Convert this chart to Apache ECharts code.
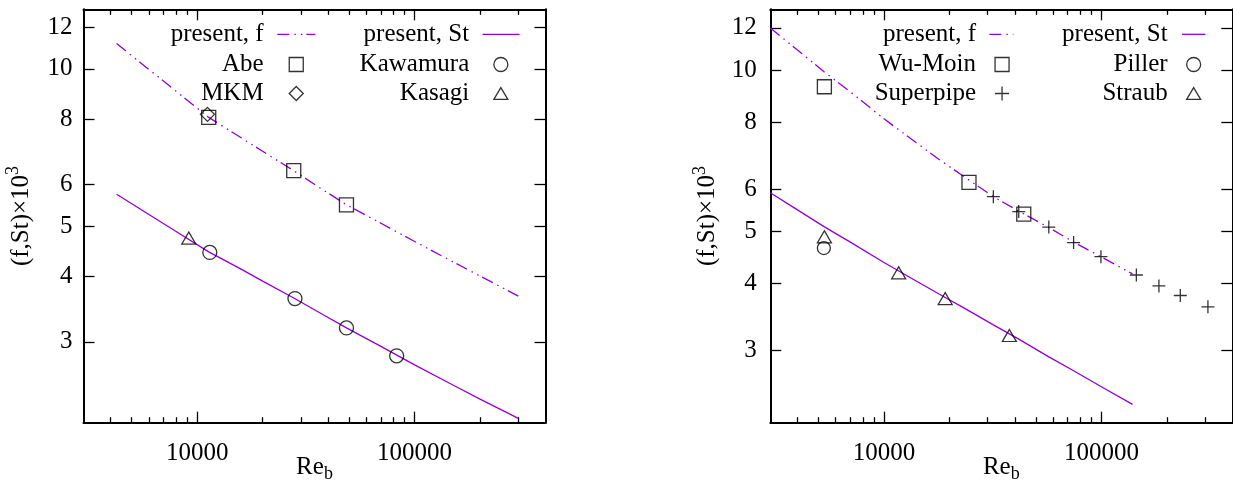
<!DOCTYPE html>
<html><head><meta charset="utf-8">
<script src="https://cdn.jsdelivr.net/npm/echarts@6/dist/echarts.min.js"></script>
<style>html,body{margin:0;padding:0;background:#fff}#c{width:1233px;height:486px}</style>
</head><body><div id="c"></div>
<script>
// ---------- tick labels ----------
const xTickMajor = [10000, 100000];
const xTickMinor = [4000, 5000, 6000, 7000, 8000, 9000, 20000, 30000, 40000, 50000, 60000, 70000, 80000, 90000, 200000, 300000];
const yTicks = [3, 4, 5, 6, 8, 10, 12];

// ---------- left panel (channel) ----------
const leftCurveRe = [4260, 6000, 8000, 11300, 16000, 20000, 27800, 38000, 48600, 70000, 100000, 150000, 200000, 300000];
const leftCurveF  = [11.18, 9.97, 9.06, 8.07, 7.37, 6.95, 6.38, 5.86, 5.49, 5.06, 4.67, 4.27, 4.01, 3.67];
const leftCurveSt = [5.75, 5.26, 4.88, 4.46, 4.13, 3.92, 3.64, 3.38, 3.19, 2.94, 2.71, 2.48, 2.33, 2.14];
const reAbe = [11300, 27800, 48600];
const fAbe = [8.07, 6.38, 5.49];
const reMKM = [11150];
const fMKM = [8.18];
const reKawamura = [11430, 28160, 48600, 82700];
const stKawamura = [4.45, 3.63, 3.19, 2.82];
const reKasagi = [9150];
const stKasagi = [4.74];

// ---------- right panel (pipe) ----------
const rightCurveRe = [3000, 4000, 5300, 7000, 10000, 14000, 18000, 23400, 31850, 41670, 57300, 74500, 99500, 139000];
const rightCurveF  = [12.0, 10.91, 9.94, 9.12, 8.12, 7.34, 6.81, 6.33, 5.81, 5.46, 5.09, 4.78, 4.49, 4.17];
const rightCurveSt = [5.91, 5.49, 5.11, 4.78, 4.38, 4.05, 3.82, 3.60, 3.35, 3.15, 2.92, 2.75, 2.57, 2.38];
const reWuMoin = [5320, 24600, 43950];
const fWuMoin = [9.32, 6.18, 5.39];
const reSuperpipe = [31850, 41670, 57300, 74500, 99500, 144800, 183900, 230600, 309000];
const fSuperpipe = [5.81, 5.45, 5.10, 4.77, 4.49, 4.15, 3.96, 3.80, 3.62];
const rePiller = [5290];
const stPiller = [4.66];
const reStraub = [5320, 11680, 19120, 37720];
const stStraub = [4.89, 4.19, 3.75, 3.20];

// ---------- styling ----------
const FONT = "'Liberation Serif','Times New Roman',serif";
const PURPLE = '#9400d3';
const DASH = [12, 5, 1.5, 5, 1.5, 4];
const BLACK = '#000';
const PLUS = 'path://M0,5H10M5,0V10';
const TRI = 'path://M5,0L10,8.5L0,8.5Z';

function pairs(xs, ys) { return xs.map((x, i) => [x, ys[i]]); }

function xAxes(gi) {
  const base = {
    type: 'log', logBase: 10, gridIndex: gi, min: 3000, max: 400000,
    splitLine: { show: false }, minorTick: { show: false }, minorSplitLine: { show: false },
    axisLine: { show: true, onZero: false, lineStyle: { color: BLACK, width: 2 } },
    axisLabel: { show: false }
  };
  const major = { show: true, inside: true, length: 11, customValues: xTickMajor, lineStyle: { color: BLACK, width: 1.3 } };
  const minor = { show: true, inside: true, length: 5.5, customValues: xTickMinor, lineStyle: { color: BLACK, width: 1.3 } };
  return [
    Object.assign({}, base, {
      position: 'bottom', axisTick: major,
      axisLabel: { show: true, customValues: xTickMajor, formatter: v => String(Math.round(v)),
        fontFamily: FONT, fontSize: 25, color: BLACK, margin: 18 },
      name: '{a|Re}{b|b}', nameLocation: 'middle', nameGap: 28, nameMoveOverlap: false,
      nameTextStyle: { color: BLACK, fontFamily: FONT, rich: {
        a: { fontSize: 25, lineHeight: 33, fontFamily: FONT, color: BLACK },
        b: { fontSize: 18, lineHeight: 18, verticalAlign: 'bottom', fontFamily: FONT, color: BLACK } } }
    }),
    Object.assign({}, base, { position: 'bottom', axisLine: { show: false, onZero: false }, axisTick: minor }),
    Object.assign({}, base, { position: 'top', axisTick: major }),
    Object.assign({}, base, { position: 'top', axisLine: { show: false, onZero: false }, axisTick: minor })
  ];
}

function yAxes(gi, min, max, nameGap, margin) {
  const base = {
    type: 'log', logBase: 10, gridIndex: gi, min: min, max: max,
    splitLine: { show: false }, minorTick: { show: false }, minorSplitLine: { show: false },
    axisLine: { show: true, onZero: false, lineStyle: { color: BLACK, width: 2 } },
    axisTick: { show: true, inside: true, length: 11, customValues: yTicks, lineStyle: { color: BLACK, width: 1.3 } },
    axisLabel: { show: false }
  };
  return [
    Object.assign({}, base, {
      position: 'left',
      axisLabel: { show: true, customValues: yTicks, formatter: v => String(Math.round(v)),
        fontFamily: FONT, fontSize: 25, color: BLACK, margin: margin },
      name: '{a|(f,St)×10}{s|3}', nameLocation: 'middle', nameRotate: 90, nameGap: nameGap, nameMoveOverlap: false,
      nameTextStyle: { color: BLACK, fontFamily: FONT, rich: {
        a: { fontSize: 25, lineHeight: 33, fontFamily: FONT, color: BLACK },
        s: { fontSize: 18, lineHeight: 18, verticalAlign: 'top', fontFamily: FONT, color: BLACK } } }
    }),
    Object.assign({}, base, { position: 'right' })
  ];
}

function curve(name, xi, yi, xs, ys, dashed) {
  return { type: 'line', name: name, xAxisIndex: xi, yAxisIndex: yi, data: pairs(xs, ys),
    symbol: 'none', showSymbol: false, silent: true, z: 2, smooth: false,
    lineStyle: { color: PURPLE, width: 1.3, type: dashed ? DASH : 'solid' },
    itemStyle: { color: PURPLE } };
}
function points(name, xi, yi, xs, ys, symbol, size) {
  return { type: 'scatter', name: name, xAxisIndex: xi, yAxisIndex: yi, data: pairs(xs, ys),
    symbol: symbol, symbolSize: size, silent: true, z: 3,
    itemStyle: { color: 'transparent', borderColor: BLACK, borderWidth: 1.3 } };
}

const textBase = { fontFamily: FONT, fontSize: 25, color: BLACK, lineHeight: 29 };
function legendLine(name, right, top, width, padR) {
  return { data: [{ name: name, itemStyle: { opacity: 0 } }], orient: 'vertical', align: 'right',
    right: right, top: top, itemWidth: width, itemHeight: 14, itemGap: 0, padding: 0, selectedMode: false,
    lineStyle: { width: 1.3 },
    textStyle: Object.assign({}, textBase, { padding: [4, padR, 0, 0] }) };
}
function legendSym(items, right, top, padR) {
  return { data: items, orient: 'vertical', align: 'right',
    right: right, top: top, itemWidth: 14, itemHeight: 14, itemGap: 0, padding: 0, selectedMode: false,
    itemStyle: { borderWidth: 1.3 },
    textStyle: Object.assign({}, textBase, { padding: [0, padR, 0, 0] }) };
}

const option = {
  animation: false,
  backgroundColor: '#fff',
  grid: [
    { left: 83.5, top: 9.3, width: 462, height: 413.4, containLabel: false, outerBoundsMode: 'none' },
    { left: 770.3, top: 9.3, width: 462, height: 413.4, containLabel: false, outerBoundsMode: 'none' }
  ],
  xAxis: xAxes(0).concat(xAxes(1)),
  yAxis: yAxes(0, 2.1, 13, 46, 11).concat(yAxes(1, 2.2, 13, 46, 13.5)),
  legend: [
    legendLine('present, f', 917, 17.8, 38, 8.7),
    legendSym([{ name: 'Abe' }, { name: 'MKM' }], 929.1, 50, 20.6),
    legendLine('present, St', 712.8, 17.8, 37, 8.4),
    legendSym([{ name: 'Kawamura' }, { name: 'Kasagi', icon: TRI }], 724.5, 50, 19.6),
    legendLine('present, f', 219, 17.8, 24, 8.3),
    legendSym([{ name: 'Wu-Moin' }, { name: 'Superpipe' }], 223.3, 50, 14),
    legendLine('present, St', 27, 17.8, 23.3, 9.4),
    legendSym([{ name: 'Piller' }, { name: 'Straub', icon: TRI }], 31.7, 50, 14)
  ],
  series: [
    curve('present, f', 0, 0, leftCurveRe, leftCurveF, true),
    curve('present, St', 0, 0, leftCurveRe, leftCurveSt, false),
    points('Abe', 0, 0, reAbe, fAbe, 'rect', 14),
    points('MKM', 0, 0, reMKM, fMKM, 'diamond', 14),
    points('Kawamura', 0, 0, reKawamura, stKawamura, 'circle', 14),
    points('Kasagi', 0, 0, reKasagi, stKasagi, 'triangle', [14, 12]),
    curve('present, f', 4, 2, rightCurveRe, rightCurveF, true),
    curve('present, St', 4, 2, rightCurveRe, rightCurveSt, false),
    points('Wu-Moin', 4, 2, reWuMoin, fWuMoin, 'rect', 14),
    points('Superpipe', 4, 2, reSuperpipe, fSuperpipe, PLUS, 13),
    points('Piller', 4, 2, rePiller, stPiller, 'circle', 13),
    points('Straub', 4, 2, reStraub, stStraub, 'triangle', [14, 12])
  ]
};

const chart = echarts.init(document.getElementById('c'), null, { renderer: 'canvas' });
chart.setOption(option);
</script>
</body></html>
